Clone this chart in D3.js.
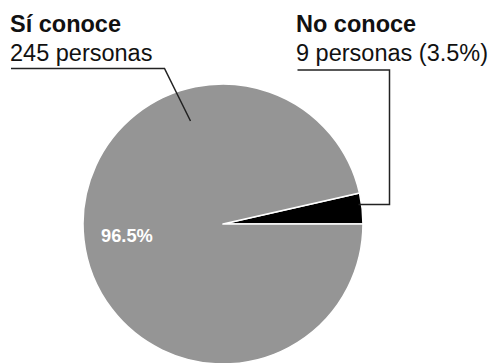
<!DOCTYPE html>
<html>
<head>
<meta charset="utf-8">
<script src="https://cdn.jsdelivr.net/npm/d3@7"></script>
<style>
  html, body { margin: 0; padding: 0; background: #fff; }
  svg { display: block; font-family: "Liberation Sans", Arial, Helvetica, sans-serif; }
</style>
</head>
<body>
<svg id="chart" width="494" height="363"></svg>
<script>
// Survey answers: does the respondent know the topic?
const categories = ["No conoce", "Sí conoce"];
const counts = [9, 245];
const colors = ["#000000", "#959595"];
const headlines = ["No conoce", "Sí conoce"];
const sublines = ["9 personas (3.5%)", "245 personas"];
const insideLabel = "96.5%";

const svg = d3.select("#chart");
const cx = 223, cy = 224, R = 140;

const total = d3.sum(counts);
const data = categories.map((c, i) => ({ name: c, value: counts[i], color: colors[i] }));

// Start the small slice at 3 o'clock and let it open upward (counter-clockwise)
const small = counts[0] / total * 2 * Math.PI;
const pie = d3.pie()
  .value(d => d.value)
  .sort(null)
  .startAngle(Math.PI / 2 - small)
  .endAngle(Math.PI / 2 - small + 2 * Math.PI);

const arc = d3.arc().innerRadius(0).outerRadius(R);

const g = svg.append("g").attr("transform", `translate(${cx},${cy})`);
g.selectAll("path")
  .data(pie(data))
  .join("path")
  .attr("d", arc)
  .attr("fill", d => d.data.color)
  .attr("stroke", "#fff")
  .attr("stroke-width", 1.6)
  .attr("stroke-linejoin", "round");

// Percentage inside the large slice
g.append("text")
  .attr("x", -122)
  .attr("y", 17.5)
  .attr("fill", "#fff")
  .attr("font-weight", "bold")
  .attr("font-size", 18.3)
  .text(insideLabel);

// Leader lines
const lineColor = "#222";
svg.append("polyline")
  .attr("points", "11,68.5 164.5,68.5 190.5,121")
  .attr("fill", "none")
  .attr("stroke", lineColor)
  .attr("stroke-width", 1.5);

svg.append("polyline")
  .attr("points", "297.5,70 389.5,70 389.5,204.5 358.5,204.5")
  .attr("fill", "none")
  .attr("stroke", lineColor)
  .attr("stroke-width", 1.5);

// Callout text
const callouts = [
  { x: 10, head: headlines[1], sub: sublines[1] },
  { x: 296, head: headlines[0], sub: sublines[0] }
];
callouts.forEach(c => {
  svg.append("text")
    .attr("x", c.x).attr("y", 31.5)
    .attr("font-weight", "bold")
    .attr("font-size", 23.5)
    .attr("fill", "#111")
    .text(c.head);
  svg.append("text")
    .attr("x", c.x).attr("y", 61)
    .attr("font-size", 23.5)
    .attr("fill", "#111")
    .text(c.sub);
});
</script>
</body>
</html>
